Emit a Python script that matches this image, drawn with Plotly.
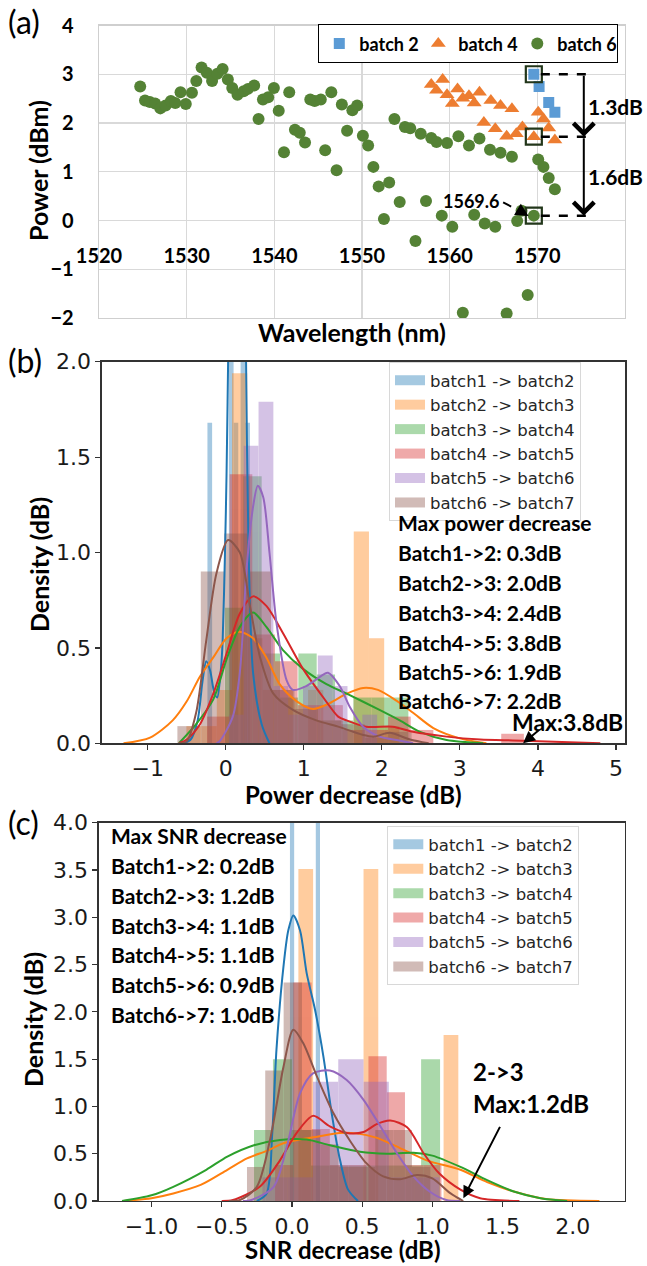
import plotly.graph_objects as go

W, H = 647, 1266

# ---------------- Panel (a) data ----------------
b2_wl = [1569.6, 1570.2, 1571.3, 1572.0]
b2_pw = [3.0, 2.75, 2.42, 2.22]
b4_wl = [1557.9, 1559.2, 1558.5, 1559.7, 1560.3, 1560.9, 1561.5, 1562.2, 1562.8, 1563.4,
         1564.7, 1565.8, 1567.1, 1563.9, 1565.2, 1566.5, 1567.6, 1568.3, 1569.6, 1570.1,
         1570.7, 1571.3, 1572.0]
b4_pw = [2.79, 2.89, 2.67, 2.58, 2.40, 2.70, 2.51, 2.56, 2.41, 2.63,
         2.46, 2.36, 2.29, 2.01, 1.88, 1.73, 1.78, 1.92, 1.72, 2.22,
         2.08, 1.90, 1.65]
b6_wl = [1524.7, 1525.25, 1525.8, 1526.4, 1527.0, 1527.6, 1528.2, 1528.7, 1529.3, 1529.9,
         1530.6, 1531.1, 1531.7, 1532.3, 1532.9, 1533.5, 1534.1, 1534.7, 1535.2, 1535.8,
         1536.5, 1537.0, 1537.7, 1538.2, 1538.7, 1539.3, 1539.95, 1540.5, 1541.1, 1541.7,
         1542.35, 1542.9, 1543.5, 1544.1, 1544.6, 1545.3, 1545.8, 1546.5, 1547.1, 1547.7,
         1548.3, 1548.9, 1549.45, 1550.1, 1550.7, 1551.3, 1551.9, 1552.5, 1553.1, 1553.7,
         1554.3, 1554.9, 1555.5, 1556.1, 1556.7, 1557.3, 1557.9, 1558.5, 1559.1, 1559.7,
         1560.3, 1561.0, 1561.5, 1562.2, 1562.8, 1563.4, 1564.0, 1564.6, 1565.2, 1565.8,
         1566.5, 1567.1, 1567.7, 1568.2, 1568.9, 1569.6, 1570.1, 1570.7, 1571.3, 1572.0]
b6_pw = [2.75, 2.46, 2.43, 2.40, 2.30, 2.36, 2.45, 2.41, 2.63, 2.39,
         2.62, 2.86, 3.14, 3.03, 2.86, 3.01, 3.11, 2.89, 2.72, 2.58,
         2.65, 2.70, 2.77, 2.08, 2.48, 2.53, 2.72, 2.25, 1.40, 2.63,
         1.86, 1.80, 1.60, 2.48, 2.45, 2.48, 1.44, 2.63, 1.03, 2.38,
         1.84, 2.26, 2.36, 1.74, 1.54, 1.10, 0.70, 0.03, 0.78, 2.08,
         0.38, 1.92, 1.89, -0.42, 1.78, 0.40, 1.69, 1.61, 0.10, 1.59,
         -0.13, 1.73, -1.89, 1.54, 0.12, 1.68, -0.06, 1.45, -0.13, 1.39,
         -1.91, 1.31, -0.01, 0.20, -1.53, 0.10, 1.25, 1.10, 0.87, 0.64]
mark_wl = 1569.6
mark_pw = [b2_pw[0], b4_pw[18], b6_pw[75]]
a_xticks = [1520, 1530, 1540, 1550, 1560, 1570, 1580]

# ---------------- Panel (b) data ----------------
names = ['batch1 -> batch2', 'batch2 -> batch3', 'batch3 -> batch4',
         'batch4 -> batch5', 'batch5 -> batch6', 'batch6 -> batch7']

b_w = [0.06, 0.195, 0.235, 0.29, 0.19, 0.3]
b_left_1 = [-0.235, 0.04, 0.10, 0.19, 0.25]
b_h_1 = [1.68, 5.0, 1.68, 5.0, 1.68]
b_left_2 = [-0.505, -0.31, -0.115, 0.08, 0.275, 0.47, 0.665, 0.86, 1.055, 1.25, 1.445, 1.64, 1.835, 2.03]
b_h_2 = [0.09, 0.09, 0.28, 1.94, 0.55, 0.28, 0.28, 0.0, 0.28, 0.0, 0.0, 1.11, 0.55, 0.09]
b_left_3 = [-0.01, 0.225, 0.46, 0.695, 0.93, 1.165, 1.4, 1.635, 1.87, 2.105]
b_h_3 = [0.71, 1.40, 0.47, 0.24, 0.47, 0.36, 0.12, 0.24, 0.24, 0.24]
b_left_4 = [-0.24, 0.05, 0.34, 0.63, 0.92, 1.21, 1.5, 1.79, 2.08, 2.37, 2.66, 2.95, 3.24, 3.53]
b_h_4 = [0.14, 1.41, 0.57, 0.43, 0.2, 0.2, 0.07, 0.07, 0.14, 0.07, 0.0, 0.0, 0.0, 0.05]
b_left_5 = [0.04, 0.23, 0.42, 0.61, 0.80, 0.99, 1.18, 1.37, 1.56, 1.75]
b_h_5 = [0.15, 1.56, 1.79, 0.3, 0.15, 0.3, 0.46, 0.3, 0.0, 0.15]
b_left_6 = [-0.62, -0.32, -0.02, 0.28, 0.58, 0.88, 1.18, 1.48, 1.78, 2.08]
b_h_6 = [0.09, 0.9, 1.1, 0.9, 0.28, 0.18, 0.12, 0.1, 0.03, 0.06]

b_kx_1 = [-0.55, -0.45, -0.36, -0.30, -0.25, -0.20, -0.15, -0.11, -0.06, -0.04, -0.01, 0.01, 0.03, 0.08, 0.15, 0.22, 0.26, 0.29, 0.35, 0.46, 0.56]
b_ky_1 = [0.0, 0.02, 0.12, 0.32, 0.43, 0.38, 0.27, 0.24, 0.40, 0.54, 1.0, 1.41, 2.0, 3.6, 4.2, 3.6, 2.0, 1.06, 0.37, 0.10, 0.0]
b_kx_2 = [-1.31, -0.97, -0.68, -0.5, -0.33, -0.16, 0.01, 0.17, 0.35, 0.52, 0.69, 0.91, 1.12, 1.33, 1.55, 1.76, 1.95, 2.2, 2.40, 2.66, 3.0, 3.34]
b_ky_2 = [0.0, 0.03, 0.12, 0.22, 0.35, 0.45, 0.55, 0.585, 0.55, 0.45, 0.31, 0.22, 0.18, 0.21, 0.26, 0.29, 0.28, 0.22, 0.16, 0.08, 0.026, 0.0]
b_kx_3 = [-0.6, -0.38, -0.16, 0.01, 0.18, 0.35, 0.52, 0.73, 0.99, 1.29, 1.55, 1.97, 2.23, 2.49, 2.83, 3.3]
b_ky_3 = [0.0, 0.10, 0.23, 0.44, 0.61, 0.685, 0.61, 0.49, 0.39, 0.31, 0.26, 0.175, 0.12, 0.06, 0.017, 0.0]
b_kx_4 = [-0.6, -0.5, -0.33, -0.16, 0.01, 0.18, 0.35, 0.52, 0.73, 0.99, 1.25, 1.44, 1.55, 1.8, 2.14, 2.4, 2.83, 3.26, 3.68, 4.11, 4.8]
b_ky_4 = [0.0, 0.02, 0.10, 0.26, 0.47, 0.68, 0.77, 0.72, 0.58, 0.39, 0.24, 0.14, 0.12, 0.087, 0.087, 0.06, 0.035, 0.02, 0.015, 0.01, 0.0]
b_kx_5 = [-0.12, -0.08, 0.09, 0.18, 0.27, 0.35, 0.41, 0.48, 0.56, 0.65, 0.78, 0.86, 1.03, 1.25, 1.31, 1.46, 1.59, 1.76, 1.97, 2.19, 2.4]
b_ky_5 = [0.0, 0.01, 0.14, 0.37, 0.93, 1.24, 1.35, 1.29, 1.0, 0.63, 0.33, 0.28, 0.30, 0.36, 0.37, 0.30, 0.19, 0.087, 0.035, 0.017, 0.0]
b_kx_6 = [-0.6, -0.5, -0.38, -0.25, -0.12, 0.03, 0.18, 0.31, 0.44, 0.61, 0.86, 1.16, 1.46, 1.75, 1.9, 2.1, 2.36, 2.6]
b_ky_6 = [0.0, 0.01, 0.16, 0.54, 0.89, 1.065, 1.0, 0.72, 0.45, 0.26, 0.175, 0.12, 0.085, 0.045, 0.035, 0.055, 0.02, 0.0]

b_text = ['Max power decrease', 'Batch1->2: 0.3dB', 'Batch2->3: 2.0dB', 'Batch3->4: 2.4dB',
          'Batch4->5: 3.8dB', 'Batch5->6: 1.9dB', 'Batch6->7: 2.2dB']
b_text_y = [1.158, 1.001, 0.844, 0.683, 0.530, 0.374, 0.226]

# ---------------- Panel (c) data ----------------
c_w = [0.03, 0.105, 0.135, 0.13, 0.18, 0.1305]
c_left_1 = [-0.014, 0.17]
c_h_1 = [16.0, 16.0]
c_left_2 = [0.046, 0.51, 1.08]
c_h_2 = [3.51, 3.51, 1.755]
c_left_3 = [-0.27, -0.135, 0.0, 0.135, 0.27, 0.405, 0.54, 0.675, 0.81, 0.92]
c_h_3 = [0.75, 1.5, 0.75, 0.375, 0.375, 0.375, 0.375, 0.375, 0.375, 1.5]
c_left_4 = [-0.12, 0.01, 0.14, 0.27, 0.40, 0.545, 0.675, 0.805, 0.935]
c_h_4 = [0.38, 2.31, 0.76, 0.38, 0.38, 1.53, 1.15, 0.38, 0.38]
c_left_5 = [-0.21, -0.03, 0.15, 0.33, 0.51, 0.69, 0.87]
c_h_5 = [0.25, 0.25, 1.26, 1.5, 1.26, 0.25, 0.25]
c_left_6 = [-0.32, -0.19, -0.059, 0.072, 0.202, 0.333, 0.463, 0.594, 0.724, 0.855]
c_h_6 = [0.36, 1.38, 2.31, 0.75, 0.6, 0.36, 0.36, 0.75, 0.75, 0.36]

c_kx_1 = [-0.25, -0.18, -0.14, -0.11, -0.06, -0.026, 0.01, 0.058, 0.105, 0.165, 0.224, 0.283, 0.343, 0.40, 0.47]
c_ky_1 = [0.0, 0.08, 0.72, 1.6, 2.48, 2.86, 3.02, 2.86, 2.41, 2.02, 1.53, 0.93, 0.43, 0.12, 0.0]
c_kx_2 = [-1.2, -1.0, -0.845, -0.65, -0.46, -0.32, -0.18, -0.06, 0.058, 0.18, 0.34, 0.46, 0.60, 0.77, 0.96, 1.2, 1.39, 1.58, 1.81, 2.19]
c_ky_2 = [0.0, 0.03, 0.08, 0.17, 0.33, 0.45, 0.53, 0.61, 0.65, 0.68, 0.72, 0.715, 0.67, 0.56, 0.43, 0.33, 0.20, 0.10, 0.02, 0.0]
c_kx_3 = [-1.21, -1.0, -0.845, -0.61, -0.46, -0.27, -0.085, 0.105, 0.27, 0.485, 0.675, 0.865, 1.0, 1.2, 1.39, 1.58, 1.77, 1.96]
c_ky_3 = [0.0, 0.06, 0.15, 0.33, 0.47, 0.59, 0.645, 0.65, 0.59, 0.52, 0.50, 0.51, 0.48, 0.36, 0.22, 0.10, 0.03, 0.0]
c_kx_4 = [-0.5, -0.42, -0.23, -0.085, 0.034, 0.15, 0.27, 0.39, 0.51, 0.60, 0.70, 0.82, 0.94, 1.05, 1.2, 1.34, 1.62]
c_ky_4 = [0.0, 0.01, 0.15, 0.43, 0.72, 0.90, 0.79, 0.72, 0.73, 0.81, 0.85, 0.78, 0.50, 0.29, 0.12, 0.03, 0.0]
c_kx_5 = [-0.35, -0.3, -0.13, -0.037, 0.058, 0.15, 0.27, 0.39, 0.51, 0.63, 0.75, 0.865, 0.98, 1.10, 1.2]
c_ky_5 = [0.0, 0.005, 0.15, 0.57, 1.14, 1.35, 1.38, 1.28, 1.07, 0.79, 0.50, 0.26, 0.10, 0.01, 0.0]
c_kx_6 = [-0.45, -0.37, -0.25, -0.156, -0.06, 0.01, 0.08, 0.18, 0.295, 0.41, 0.53, 0.65, 0.77, 0.89, 1.0, 1.13, 1.22]
c_ky_6 = [0.0, 0.01, 0.15, 0.645, 1.42, 1.81, 1.67, 1.31, 0.93, 0.645, 0.40, 0.26, 0.23, 0.275, 0.24, 0.08, 0.0]

c_text = ['Max SNR decrease', 'Batch1->2: 0.2dB', 'Batch2->3: 1.2dB', 'Batch3->4: 1.1dB',
          'Batch4->5: 1.1dB', 'Batch5->6: 0.9dB', 'Batch6->7: 1.0dB']
c_text_y = [3.869, 3.552, 3.227, 2.918, 2.608, 2.291, 1.974]

# ---------------- styles ----------------
TAB = ['#1f77b4', '#ff7f0e', '#2ca02c', '#d62728', '#9467bd', '#8c564b']
TAB_A = ['rgba(31,119,180,0.4)', 'rgba(255,127,14,0.4)', 'rgba(44,160,44,0.4)',
         'rgba(214,39,40,0.4)', 'rgba(148,103,189,0.4)', 'rgba(140,86,75,0.4)']
BOLD = 'Lato'
MPL = 'DejaVu Sans'


def fx(p):
    return p / W


def fy(p):
    return 1 - p / H


dom_a_x = [fx(99), fx(625)]
dom_a_y = [fy(318), fy(25.5)]
dom_b_x = [fx(101.7), fx(625.3)]
dom_b_y = [fy(743.3), fy(361.7)]
dom_c_x = [fx(98.7), fx(625)]
dom_c_y = [fy(1201), fy(822.7)]

a_xr = [1520, 1580]
a_yr = [-2, 4]
pos0 = dom_a_y[0] + (0 - a_yr[0]) / (a_yr[1] - a_yr[0]) * (dom_a_y[1] - dom_a_y[0])

fig = go.Figure()

# ---- (a) traces
fig.add_trace(go.Scatter(x=b6_wl, y=b6_pw, name='batch 6', mode='markers', legend='legend',
                         marker=dict(symbol='circle', size=12, color='#548235'), legendrank=3))
fig.add_trace(go.Scatter(x=b4_wl, y=b4_pw, name='batch 4', mode='markers', legend='legend',
                         marker=dict(symbol='triangle-up', size=13, color='#ED7D31'), legendrank=2))
fig.add_trace(go.Scatter(x=b2_wl, y=b2_pw, name='batch 2', mode='markers', legend='legend',
                         marker=dict(symbol='square', size=11, color='#5B9BD5'), legendrank=1))
fig.add_trace(go.Scatter(x=[mark_wl] * 3, y=mark_pw, mode='markers', showlegend=False,
                         marker=dict(symbol='square-open', size=16, color='#22361a',
                                     line=dict(width=2.2))))
fig.add_trace(go.Scatter(x=[None], y=[None], xaxis='x4', yaxis='y', showlegend=False,
                         hoverinfo='skip'))


def add_panel(xa, ya, lefts, heights, widths, kxs, kys, leg):
    for i in range(6):
        w = widths[i]
        fig.add_trace(go.Bar(x=[l + w / 2 for l in lefts[i]], y=heights[i], width=w,
                             marker=dict(color=TAB[i], line=dict(width=0)), opacity=0.4,
                             xaxis=xa, yaxis=ya, showlegend=False, hoverinfo='skip'))
    for i in range(6):
        fig.add_trace(go.Scatter(x=kxs[i], y=kys[i], mode='lines',
                                 line=dict(color=TAB[i], width=2, shape='spline', smoothing=0.8),
                                 xaxis=xa, yaxis=ya, showlegend=False, hoverinfo='skip'))
    for i in range(6):
        fig.add_trace(go.Scatter(x=[None], y=[None], mode='lines', name=names[i],
                                 line=dict(color=TAB_A[i], width=12),
                                 xaxis=xa, yaxis=ya, legend=leg))


add_panel('x2', 'y2',
          [b_left_1, b_left_2, b_left_3, b_left_4, b_left_5, b_left_6],
          [b_h_1, b_h_2, b_h_3, b_h_4, b_h_5, b_h_6], b_w,
          [b_kx_1, b_kx_2, b_kx_3, b_kx_4, b_kx_5, b_kx_6],
          [b_ky_1, b_ky_2, b_ky_3, b_ky_4, b_ky_5, b_ky_6], 'legend2')
add_panel('x3', 'y3',
          [c_left_1, c_left_2, c_left_3, c_left_4, c_left_5, c_left_6],
          [c_h_1, c_h_2, c_h_3, c_h_4, c_h_5, c_h_6], c_w,
          [c_kx_1, c_kx_2, c_kx_3, c_kx_4, c_kx_5, c_kx_6],
          [c_ky_1, c_ky_2, c_ky_3, c_ky_4, c_ky_5, c_ky_6], 'legend3')

# ---- annotations / shapes
ann = []
shapes = []


def txt(text, x, y, size, xref='paper', yref='paper', xanchor='center', yanchor='middle',
        angle=0, weight='bold', family=BOLD):
    ann.append(dict(text=text, x=x, y=y, xref=xref, yref=yref, xanchor=xanchor,
                    yanchor=yanchor, textangle=angle, showarrow=False,
                    font=dict(family=family, size=size, color='black', weight=weight)))


def arrow(x, y, ax, ay, xref, yref, head=4, size=2.0, width=2, color='black'):
    ann.append(dict(text='', x=x, y=y, ax=ax, ay=ay, xref=xref, yref=yref,
                    axref=xref, ayref=yref, showarrow=True, arrowhead=head,
                    arrowsize=size, arrowwidth=width, arrowcolor=color))


# panel labels
txt('(a)', fx(6), fy(21), 32, xanchor='left', weight='normal')
txt('(b)', fx(6), fy(360), 32, xanchor='left', weight='normal')
txt('(c)', fx(6), fy(822), 32, xanchor='left', weight='normal')

# axis titles
txt('Power (dBm)', fx(38), fy(171), 25, angle=-90)
txt('Wavelength (nm)', fx(352), fy(332), 25)
txt('Density (dB)', fx(39), fy(565), 25, angle=-90)
txt('Power decrease (dB)', fx(353), fy(794), 24)
txt('Density (dB)', fx(33), fy(1020), 25, angle=-90)
txt('SNR decrease (dB)', fx(342), fy(1249), 24)

# panel (a) markers of the drop
for v in mark_pw:
    shapes.append(dict(type='line', xref='x', yref='y', x0=mark_wl + 0.8, x1=1576.5, y0=v, y1=v,
                       line=dict(color='black', width=2.5, dash='dash')))
arrow(1575.3, mark_pw[1], 1575.3, mark_pw[0], 'x', 'y')
arrow(1575.3, mark_pw[2], 1575.3, mark_pw[1], 'x', 'y')
txt('1.3dB', 1575.6, 2.34, 21, xref='x', yref='y', xanchor='left')
txt('1.6dB', 1575.6, 0.91, 21, xref='x', yref='y', xanchor='left')
txt('1569.6', 1562.4, 0.40, 18, xref='x', yref='y')
shapes.append(dict(type='line', xref='x', yref='y', x0=1566.1, x1=1568.5, y0=0.37, y1=0.15,
                   line=dict(color='black', width=2, dash='dash')))
arrow(1569.0, 0.09, 1568.4, 0.155, 'x', 'y', head=2, size=1.3, width=2)

# panel (b) texts
for t, yv in zip(b_text, b_text_y):
    txt(t, 2.18, yv, 21, xref='x2', yref='y2', xanchor='left')
txt('Max:3.8dB', 3.64, 0.11, 23, xref='x2', yref='y2', xanchor='left')
arrow(3.81, 0.0, 4.03, 0.075, 'x2', 'y2', head=2, size=1.2, width=2)

# panel (c) texts
for t, yv in zip(c_text, c_text_y):
    txt(t, -1.303, yv, 21, xref='x3', yref='y3', xanchor='left')
txt('2->3', 1.273, 1.367, 24, xref='x3', yref='y3', xanchor='left')
txt('Max:1.2dB', 1.273, 1.033, 24, xref='x3', yref='y3', xanchor='left')
arrow(1.221, 0.03, 1.487, 0.80, 'x3', 'y3', head=2, size=1.2, width=2)

# ---- axes
grid = '#d9d9d9'
a_tick_font = dict(family=BOLD, size=20, color='black', weight='bold')
mpl_font = dict(family=MPL, size=22, color='#1a1a1a')
mpl_ax = dict(showline=True, mirror=True, linecolor='#333333', linewidth=1.3,
              ticks='outside', ticklen=5, tickwidth=1.2, tickcolor='#333333',
              showgrid=False, zeroline=False, tickfont=mpl_font, automargin=False)

fig.update_layout(
    template='none',
    width=W, height=H, margin=dict(l=0, r=0, t=0, b=0, autoexpand=False),
    paper_bgcolor='white', plot_bgcolor='white',
    barmode='overlay',
    xaxis=dict(domain=dom_a_x, anchor='y', range=a_xr, tickvals=a_xticks, showgrid=True,
               gridcolor=grid, gridwidth=1.3, showline=True, mirror=True, linecolor='#cfcfcf',
               linewidth=1.3, showticklabels=False, zeroline=False, ticks='', automargin=False),
    yaxis=dict(domain=dom_a_y, anchor='x', range=a_yr, dtick=1, showgrid=True, gridcolor=grid,
               gridwidth=1.3, showline=True, mirror=True, linecolor='#cfcfcf', linewidth=1.3,
               zeroline=False, ticks='', tickfont=a_tick_font, ticklabelstandoff=20,
               automargin=False),
    xaxis4=dict(overlaying='x', anchor='free', position=pos0, range=a_xr, tickvals=a_xticks,
                showgrid=False, showline=False, zeroline=False, ticks='', side='bottom',
                tickfont=a_tick_font, ticklabelstandoff=21, automargin=False),
    xaxis2=dict(domain=dom_b_x, anchor='y2', range=[-1.59, 5.12], tickvals=[-1, 0, 1, 2, 3, 4, 5],
                **mpl_ax),
    yaxis2=dict(domain=dom_b_y, anchor='x2', range=[0, 2.0], dtick=0.5, tickformat='.1f',
                **mpl_ax),
    xaxis3=dict(domain=dom_c_x, anchor='y3', range=[-1.376, 2.372],
                tickvals=[-1.0, -0.5, 0.0, 0.5, 1.0, 1.5, 2.0], tickformat='.1f', **mpl_ax),
    yaxis3=dict(domain=dom_c_y, anchor='x3', range=[0, 4.0], dtick=0.5, tickformat='.1f',
                **mpl_ax),
    legend=dict(x=fx(318), y=fy(24), xanchor='left', yanchor='top', orientation='h',
                bordercolor='black', borderwidth=1.3, bgcolor='white',
                font=dict(family=BOLD, size=18, color='black', weight='bold'),
                itemwidth=30, traceorder='normal', entrywidth=54, entrywidthmode='pixels'),
    legend2=dict(x=fx(389), y=fy(362), xanchor='left', yanchor='top',
                 bordercolor='#d8d8d8', borderwidth=1, bgcolor='rgba(255,255,255,0.8)',
                 font=dict(family=MPL, size=16.5, color='#262626'), itemwidth=30),
    legend3=dict(x=fx(387.3), y=fy(826), xanchor='left', yanchor='top',
                 bordercolor='#d8d8d8', borderwidth=1, bgcolor='rgba(255,255,255,0.8)',
                 font=dict(family=MPL, size=16.5, color='#262626'), itemwidth=30),
    annotations=ann, shapes=shapes, showlegend=True,
)

fig.write_html('out.html', config={'displayModeBar': False, 'staticPlot': True},
               post_script="document.body.style.margin='0px';"
                           "document.body.style.overflow='hidden';")
